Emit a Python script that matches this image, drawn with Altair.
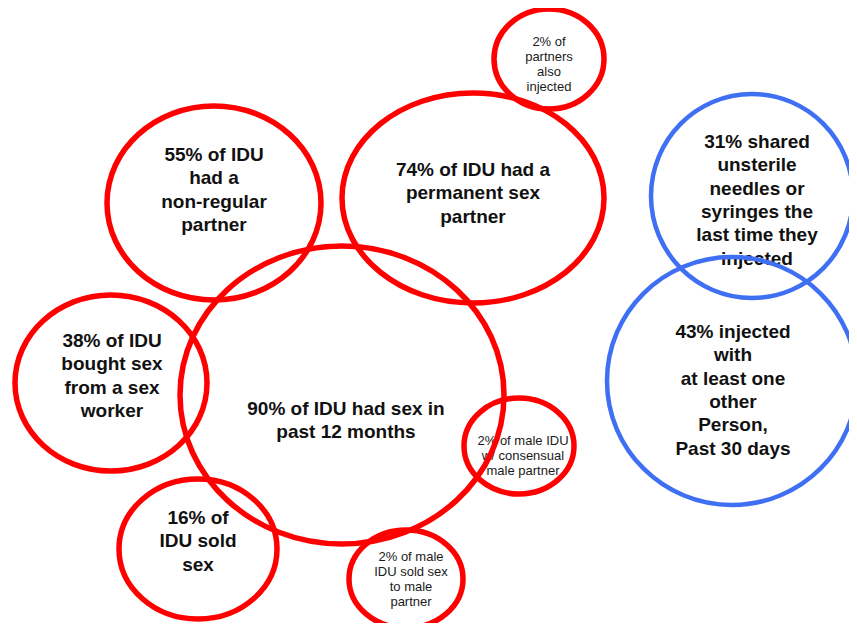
import altair as alt
import pandas as pd

# ---- circle labels (multi-line text split on "|") ----
labels = [
    "55% of IDU|had a|non-regular|partner",
    "74% of IDU had a|permanent sex|partner",
    "90% of IDU had sex in|past 12 months",
    "38% of IDU|bought sex|from a sex|worker",
    "16% of|IDU sold|sex",
    "31% shared|unsterile|needles or|syringes the|last time they|injected",
    "43% injected|with|at least one|other|Person,|Past 30 days",
    "2% of|partners|also|injected",
    "2% of male IDU|w/ consensual|male partner",
    "2% of male|IDU sold sex|to male|partner",
]
label_style = ["big", "big", "big", "big", "big", "big", "big", "small", "small", "small"]
# position of the first line of each label
label_x = [214, 473, 346, 112, 198, 757, 733, 549, 523, 411]
label_y = [155, 170, 409, 341, 518, 142, 332, 42, 441, 557]

# ---- circles (centre, half-width, half-height) ----
circle_group = ["sex", "sex", "sex", "sex", "sex", "injecting", "injecting", "sex", "sex", "sex"]
circle_cx = [214, 473, 342, 111, 198, 752, 732, 549, 519, 406]
circle_cy = [203, 198, 395, 383, 549, 196, 381, 59, 446, 579]
circle_rx = [107, 131, 162, 96, 79, 101, 125, 55, 55, 57]
circle_ry = [97, 105, 149, 88, 70, 102, 124, 50, 48, 49]

group_names = ["sex", "injecting"]
group_colors = ["#FF0000", "#3F6FF2"]
group_widths = [5.5, 4.5]

K = 0.5523


def ellipse_path(rx, ry):
    b = ry / rx
    kb = K * b
    return (
        f"M 1 0 C 1 {kb:.4f} {K} {b:.4f} 0 {b:.4f} "
        f"C {-K} {b:.4f} -1 {kb:.4f} -1 0 "
        f"C -1 {-kb:.4f} {-K} {-b:.4f} 0 {-b:.4f} "
        f"C {K} {-b:.4f} 1 {-kb:.4f} 1 0 Z"
    )


circles = pd.DataFrame({
    "cx": circle_cx,
    "cy": circle_cy,
    "group": circle_group,
    "shape": [ellipse_path(a, b) for a, b in zip(circle_rx, circle_ry)],
    "size": [(2 * a) ** 2 for a in circle_rx],
    "sw": [group_widths[group_names.index(g)] for g in circle_group],
})

texts = pd.DataFrame({"label": labels, "style": label_style, "x": label_x, "y": label_y})

W, H = 841, 615
xs = alt.Scale(domain=[8, 8 + W])
ys = alt.Scale(domain=[8, 8 + H], reverse=True)

base_text = alt.Chart(texts).transform_calculate(lines="split(datum.label, '|')")

big = base_text.transform_filter("datum.style == 'big'").mark_text(
    font="Liberation Sans", fontWeight="bold", fontSize=19, lineHeight=23.3,
    align="center", baseline="middle", color="#111111",
).encode(
    x=alt.X("x:Q", scale=xs, axis=None),
    y=alt.Y("y:Q", scale=ys, axis=None),
    text=alt.Text("lines:N"),
)

small = base_text.transform_filter("datum.style == 'small'").mark_text(
    font="Liberation Sans", fontSize=13, lineHeight=14.9,
    align="center", baseline="middle", color="#1a1a1a",
).encode(
    x=alt.X("x:Q", scale=xs, axis=None),
    y=alt.Y("y:Q", scale=ys, axis=None),
    text=alt.Text("lines:N"),
)

rings = alt.Chart(circles).mark_point(filled=False, opacity=1).encode(
    x=alt.X("cx:Q", scale=xs, axis=None),
    y=alt.Y("cy:Q", scale=ys, axis=None),
    shape=alt.Shape("shape:N", scale=None),
    size=alt.Size("size:Q", scale=None),
    strokeWidth=alt.StrokeWidth("sw:Q", scale=None),
    color=alt.Color("group:N", scale=alt.Scale(domain=group_names, range=group_colors), legend=None),
)

chart = alt.layer(big, small, rings).properties(
    width=W, height=H, padding=0, autosize=alt.AutoSizeParams(type="none"),
    background="white",
).configure_view(stroke=None)

chart.save("out.html", embed_options={"renderer": "svg", "actions": False})
